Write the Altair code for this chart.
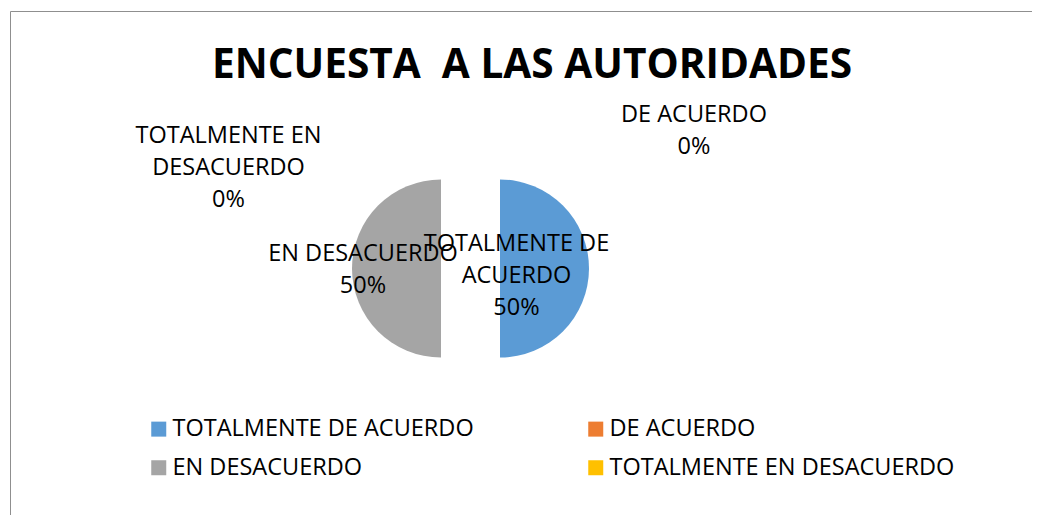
import altair as alt
import pandas as pd

title_text = "ENCUESTA\u00a0 A LAS AUTORIDADES"
categories = ["TOTALMENTE DE ACUERDO", "DE ACUERDO", "EN DESACUERDO", "TOTALMENTE EN DESACUERDO"]
values = [50, 0, 50, 0]
label_lines = ["TOTALMENTE DE\nACUERDO", "DE ACUERDO", "EN DESACUERDO", "TOTALMENTE EN\nDESACUERDO"]
colors = ["#5B9BD5", "#ED7D31", "#A5A5A5", "#FFC000"]
# legend is filled column by column: order entries so rows read as in the original
legend_order = [0, 2, 1, 3]

df = pd.DataFrame({"cat": categories, "value": values, "label": label_lines,
                   "order": list(range(len(categories)))})

FONT = "Open Sans"
W, H = 1022, 510
FRAME = "#8f8f8f"

base = (
    alt.Chart(df)
    .transform_joinaggregate(total="sum(value)")
    .transform_stack(stack="value", groupby=[], as_=["v0", "v1"],
                     sort=[alt.SortField("order")], offset="normalize")
    .transform_calculate(txt="datum.label + '\\n' + format(datum.value / datum.total, '.0%')")
)

color = alt.Color(
    "cat:N",
    scale=alt.Scale(domain=[categories[i] for i in legend_order],
                    range=[colors[i] for i in legend_order]),
    legend=alt.Legend(
        title=None, orient="none", legendX=137, legendY=406, columns=2,
        symbolType="square", symbolSize=225, symbolStrokeWidth=0, symbolOpacity=1,
        labelFont=FONT, labelFontSize=23.5, labelColor="#000000", labelOffset=2,
        columnPadding=110, rowPadding=14, labelLimit=600,
    ),
)
theta = alt.Theta("v0:Q", scale=alt.Scale(domain=[0, 1]))

pie_right = base.transform_filter("datum.v0 < 0.5").mark_arc(
    radius=89, xOffset=-21, yOffset=2.5).encode(theta=theta, theta2="v1:Q", color=color)
pie_left = base.transform_filter("datum.v0 >= 0.5").mark_arc(
    radius=89, xOffset=-80, yOffset=2.5).encode(theta=theta, theta2="v1:Q", color=color)

label_offsets = {
    "TOTALMENTE DE ACUERDO": (-4.5, -22.5),
    "DE ACUERDO": (173, -151.5),
    "EN DESACUERDO": (-158, -12.5),
    "TOTALMENTE EN DESACUERDO": (-292.5, -130.5),
}
labels = []
for cat, (dx, dy) in label_offsets.items():
    labels.append(
        base.transform_filter(alt.datum.cat == cat).mark_text(
            font=FONT, fontSize=23.5, lineBreak="\n", lineHeight=32,
            align="center", baseline="middle", dx=dx, dy=dy, color="#000000",
        ).encode(text="txt:N")
    )

one = alt.Chart(df).transform_filter(alt.datum.order == 0)

title = one.mark_text(
    font=FONT, fontSize=40.6, fontWeight="bold", color="#000000",
    align="center", baseline="alphabetic", dx=11, dy=-188,
).encode(text=alt.value(title_text))

frame_top = one.mark_rule(color=FRAME, strokeWidth=1).encode(
    x=alt.value(0.5), x2=alt.value(W + 20), y=alt.value(0.5))
frame_left = one.mark_rule(color=FRAME, strokeWidth=1).encode(
    x=alt.value(0.5), y=alt.value(0.5), y2=alt.value(H + 20))

chart = alt.layer(frame_top, frame_left, pie_right, pie_left, *labels, title).properties(
    width=W, height=H,
    autosize=alt.AutoSizeParams(type="none"),
    padding={"left": 2, "top": 3, "right": 0, "bottom": 0},
).configure_view(stroke=None)

chart.save("out.html", embed_options={"renderer": "svg", "actions": False})
